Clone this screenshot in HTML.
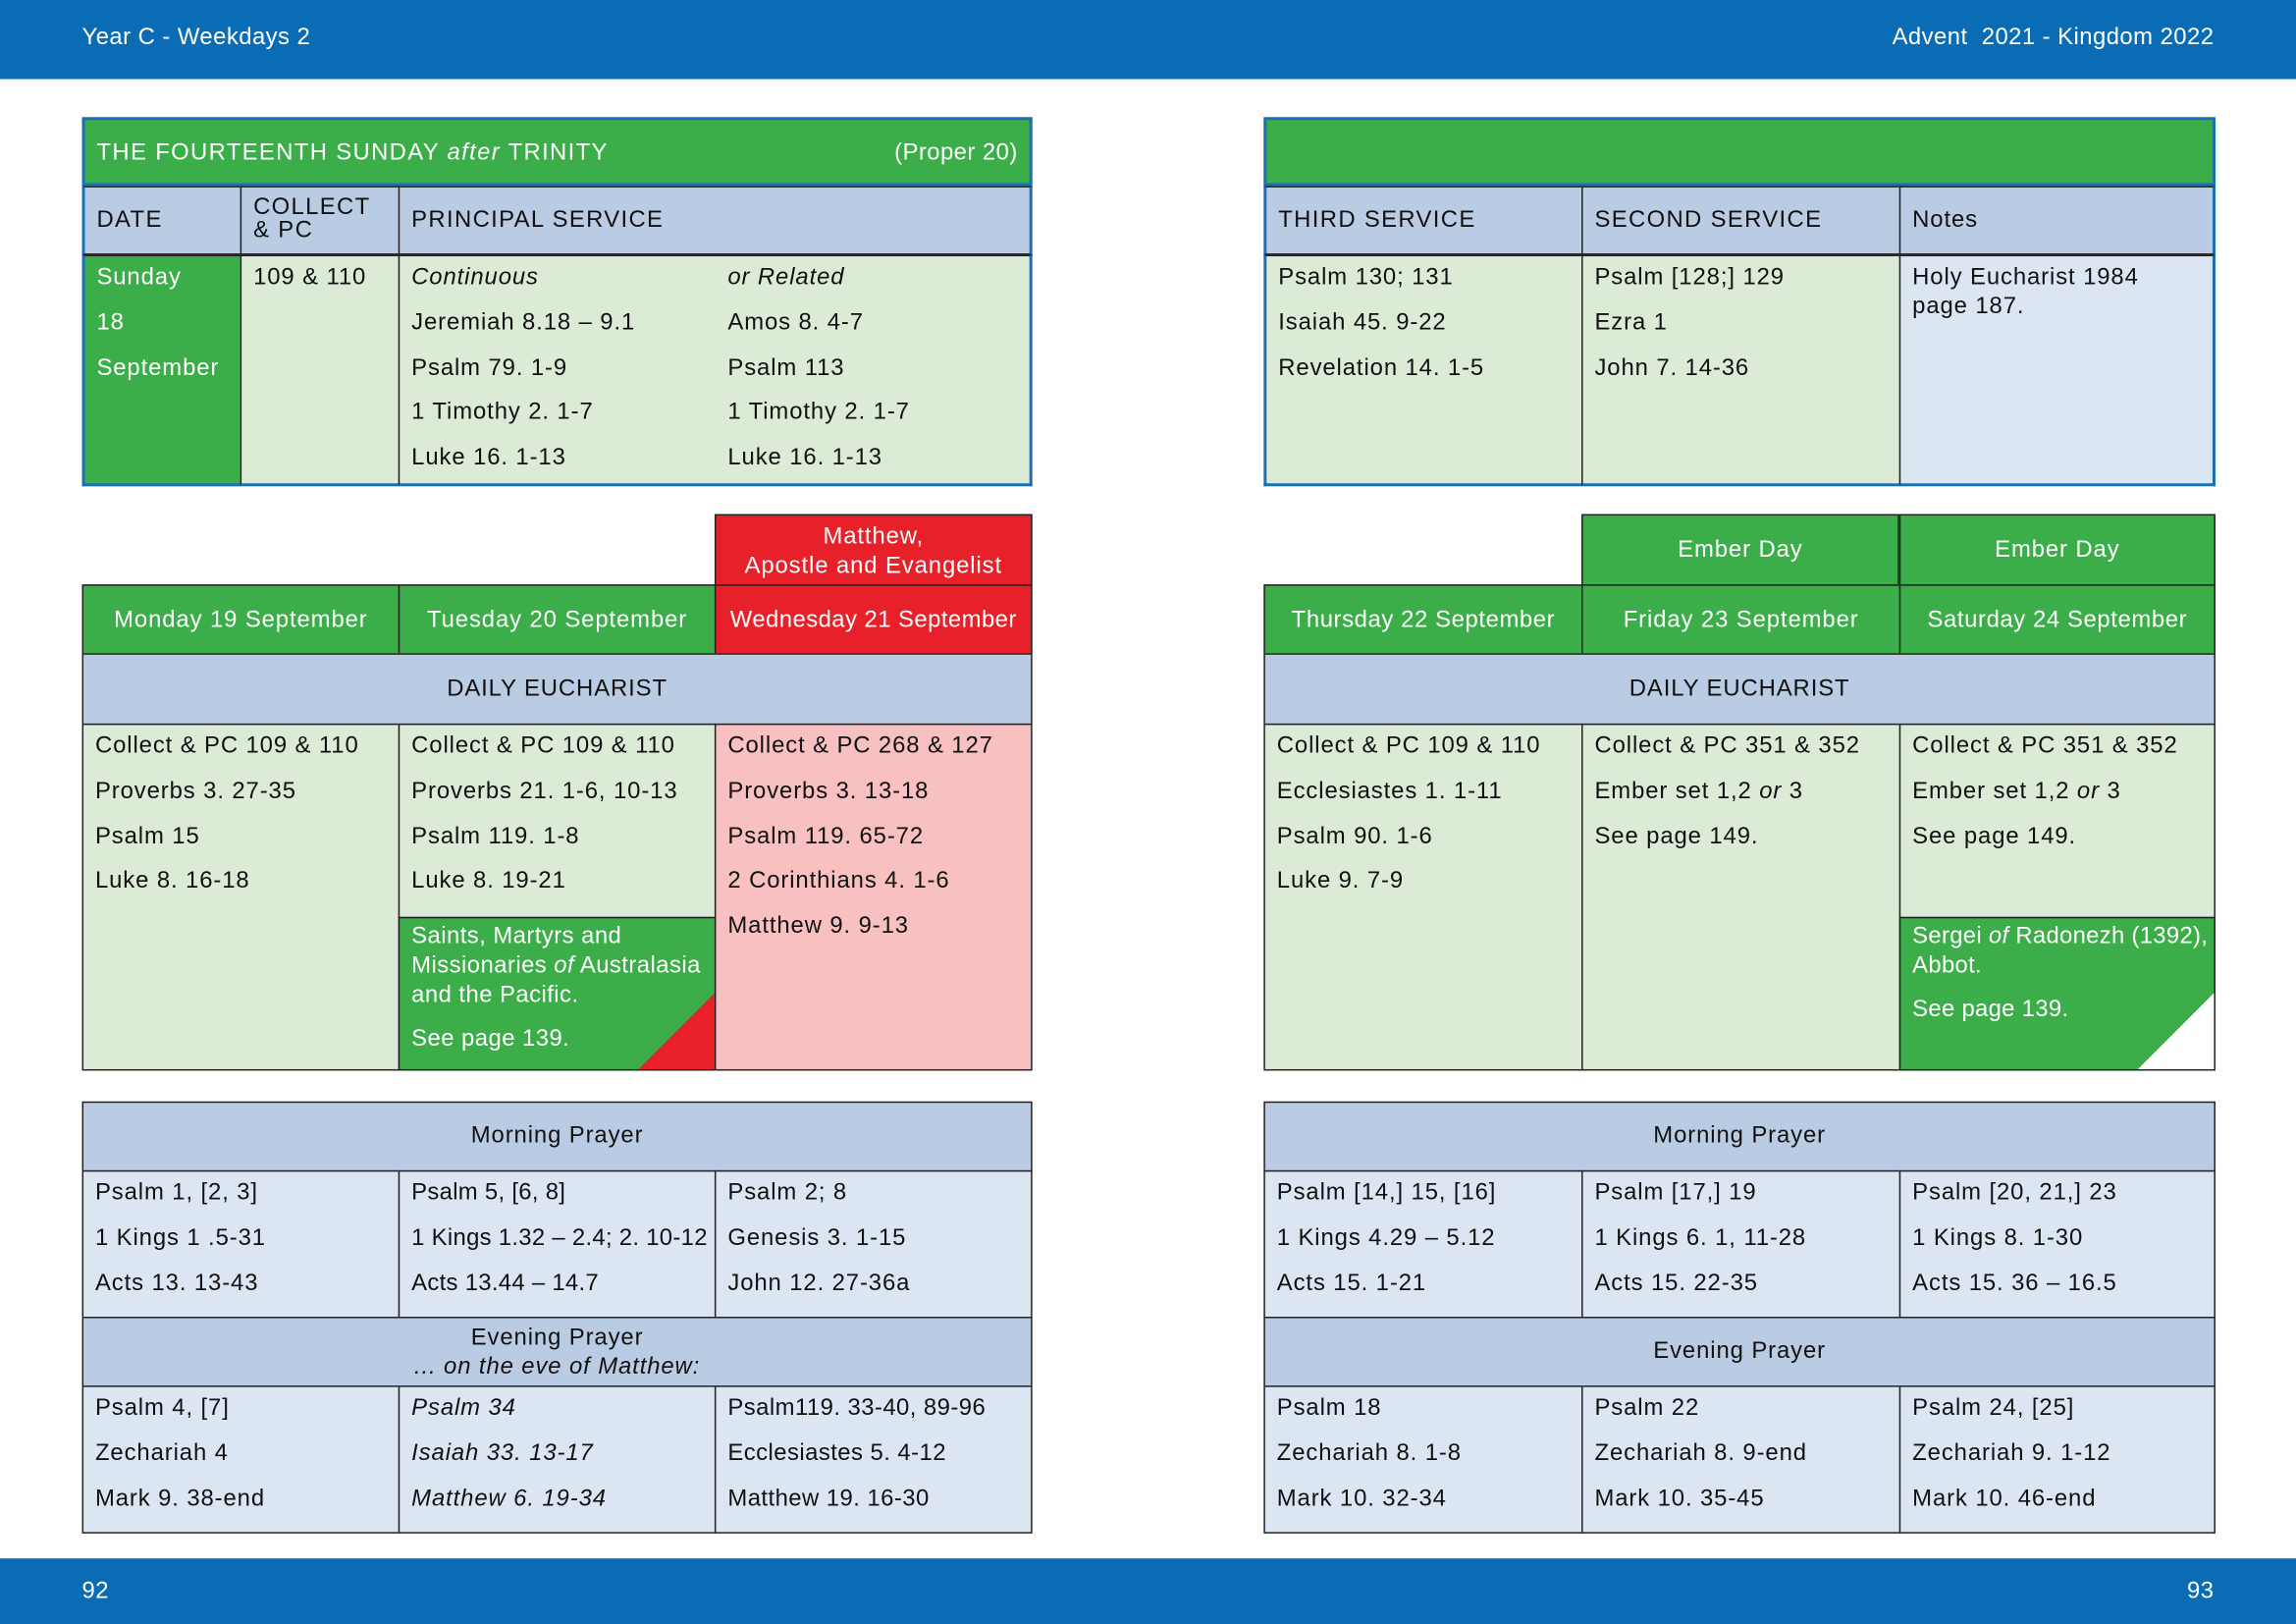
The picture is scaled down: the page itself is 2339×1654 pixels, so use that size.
<!DOCTYPE html>
<html><head><meta charset="utf-8"><style>
html,body{margin:0;padding:0;background:#fff;overflow:hidden}
#w{width:1568px;height:1109px;position:relative;transform:scale(1.49171);transform-origin:0 0;font-family:"Liberation Sans",sans-serif;font-size:16px;color:#111}
.c{position:absolute;box-sizing:border-box;border:1px solid #222;padding:0 8px;line-height:30.8px;letter-spacing:0.6px;white-space:nowrap}
.bar{position:absolute;left:0;width:1568px;background:#0a6cb4;color:#fff;letter-spacing:0.3px}
.g{background:#3cae49;color:#fff}
.lg{background:#dcebd6}
.hb{background:#b9cce4}
.db{background:#dce6f2}
.pk{background:#f8c0c0}
.rd{background:#e8202a;color:#fff}
.ctr{text-align:center}
.t{position:absolute;white-space:nowrap}
</style></head><body><div id="w">
<div class="bar" style="top:0;height:54px"><span class="t" style="left:56px;top:17px">Year C - Weekdays 2</span><span class="t" style="right:56px;top:17px">Advent&nbsp; 2021 - Kingdom 2022</span></div>
<div class="bar" style="top:1064px;height:45px"><span class="t" style="left:56px;top:14px">92</span><span class="t" style="right:56px;top:14px">93</span></div>

<!-- top left -->
<div class="c g" style="left:56px;top:80px;width:649px;height:47px;line-height:46px;border:2px solid #1a6fb5;letter-spacing:0.9px">THE FOURTEENTH SUNDAY <i>after</i> TRINITY<span style="position:absolute;right:8px;letter-spacing:0.3px">(Proper 20)</span></div>
<div class="c hb" style="left:56px;top:127px;width:109px;height:47px;line-height:46px;border-left:2px solid #1a6fb5;letter-spacing:0.9px">DATE</div>
<div class="c hb" style="left:164px;top:127px;width:109px;height:47px;line-height:16px;padding-top:6px;letter-spacing:0.9px">COLLECT<br>&amp; PC</div>
<div class="c hb" style="left:272px;top:127px;width:433px;height:47px;line-height:46px;border-right:2px solid #1a6fb5;letter-spacing:0.9px">PRINCIPAL SERVICE</div>
<div class="c g" style="left:56px;top:174px;width:109px;height:158px;border:2px solid #1a6fb5;border-right:1px solid #222;border-top:1px solid #222">Sunday<br>18<br>September</div>
<div class="c lg" style="left:164px;top:174px;width:109px;height:158px;border-bottom:2px solid #1a6fb5">109 &amp; 110</div>
<div class="c lg" style="left:272px;top:174px;width:433px;height:158px;border-bottom:2px solid #1a6fb5;border-right:2px solid #1a6fb5"><i>Continuous</i><br>Jeremiah 8.18 – 9.1<br>Psalm 79. 1-9<br>1 Timothy 2. 1-7<br>Luke 16. 1-13
<div style="position:absolute;left:224px;top:0"><i>or Related</i><br>Amos 8. 4-7<br>Psalm 113<br>1 Timothy 2. 1-7<br>Luke 16. 1-13</div></div>

<!-- top right -->
<div class="c g" style="left:863px;top:80px;width:650px;height:47px;border:2px solid #1a6fb5"></div>
<div class="c hb" style="left:863px;top:127px;width:218px;height:47px;line-height:46px;border-left:2px solid #1a6fb5;letter-spacing:0.9px">THIRD SERVICE</div>
<div class="c hb" style="left:1080px;top:127px;width:218px;height:47px;line-height:46px;letter-spacing:0.9px">SECOND SERVICE</div>
<div class="c hb" style="left:1297px;top:127px;width:216px;height:47px;line-height:46px;border-right:2px solid #1a6fb5">Notes</div>
<div class="c lg" style="left:863px;top:174px;width:218px;height:158px;border-left:2px solid #1a6fb5;border-bottom:2px solid #1a6fb5">Psalm 130; 131<br>Isaiah 45. 9-22<br>Revelation 14. 1-5</div>
<div class="c lg" style="left:1080px;top:174px;width:218px;height:158px;border-bottom:2px solid #1a6fb5">Psalm [128;] 129<br>Ezra 1<br>John 7. 14-36</div>
<div class="c db" style="left:1297px;top:174px;width:216px;height:158px;border-bottom:2px solid #1a6fb5;border-right:2px solid #1a6fb5;line-height:20px;padding-top:5px">Holy Eucharist 1984<br>page 187.</div>

<!-- middle left -->
<div class="c rd ctr" style="left:488px;top:351px;width:217px;height:49px;line-height:20px;padding-top:5px">Matthew,<br>Apostle and Evangelist</div>
<div class="c g ctr" style="left:56px;top:399px;width:217px;height:48px;line-height:47px;padding:0">Monday 19 September</div>
<div class="c g ctr" style="left:272px;top:399px;width:217px;height:48px;line-height:47px;padding:0">Tuesday 20 September</div>
<div class="c rd ctr" style="left:488px;top:399px;width:217px;height:48px;line-height:47px;padding:0;letter-spacing:0.3px">Wednesday 21 September</div>
<div class="c hb ctr" style="left:56px;top:446px;width:649px;height:49px;line-height:47px">DAILY EUCHARIST</div>
<div class="c lg" style="left:56px;top:494px;width:217px;height:237px">Collect &amp; PC 109 &amp; 110<br>Proverbs 3. 27-35<br>Psalm 15<br>Luke 8. 16-18</div>
<div class="c lg" style="left:272px;top:494px;width:217px;height:133px">Collect &amp; PC 109 &amp; 110<br>Proverbs 21. 1-6, 10-13<br>Psalm 119. 1-8<br>Luke 8. 19-21</div>
<div class="c g" style="left:272px;top:626px;width:217px;height:105px;line-height:20px;padding-top:3px;overflow:hidden;letter-spacing:0.3px">Saints, Martyrs and<br>Missionaries <i>of</i> Australasia<br>and the Pacific.<div style="margin-top:10px">See page 139.</div>
<div style="position:absolute;right:0;bottom:0;width:0;height:0;border-left:52px solid transparent;border-bottom:52px solid #e8202a"></div></div>
<div class="c pk" style="left:488px;top:494px;width:217px;height:237px">Collect &amp; PC 268 &amp; 127<br>Proverbs 3. 13-18<br>Psalm 119. 65-72<br>2 Corinthians 4. 1-6<br>Matthew 9. 9-13</div>

<!-- middle right -->
<div class="c g ctr" style="left:1080px;top:351px;width:217px;height:49px;line-height:48px">Ember Day</div>
<div class="c g ctr" style="left:1297px;top:351px;width:216px;height:49px;line-height:48px">Ember Day</div>
<div class="c g ctr" style="left:863px;top:399px;width:218px;height:48px;line-height:47px;padding:0;letter-spacing:0.4px">Thursday 22 September</div>
<div class="c g ctr" style="left:1080px;top:399px;width:218px;height:48px;line-height:47px;padding:0">Friday 23 September</div>
<div class="c g ctr" style="left:1297px;top:399px;width:216px;height:48px;line-height:47px;padding:0;letter-spacing:0.4px">Saturday 24 September</div>
<div class="c hb ctr" style="left:863px;top:446px;width:650px;height:49px;line-height:47px">DAILY EUCHARIST</div>
<div class="c lg" style="left:863px;top:494px;width:218px;height:237px">Collect &amp; PC 109 &amp; 110<br>Ecclesiastes 1. 1-11<br>Psalm 90. 1-6<br>Luke 9. 7-9</div>
<div class="c lg" style="left:1080px;top:494px;width:218px;height:237px">Collect &amp; PC 351 &amp; 352<br>Ember set 1,2 <i>or</i> 3<br>See page 149.</div>
<div class="c lg" style="left:1297px;top:494px;width:216px;height:133px">Collect &amp; PC 351 &amp; 352<br>Ember set 1,2 <i>or</i> 3<br>See page 149.</div>
<div class="c g" style="left:1297px;top:626px;width:216px;height:105px;line-height:20px;padding-top:3px;overflow:hidden;letter-spacing:0.2px">Sergei <i>of</i> Radonezh (1392),<br>Abbot.<div style="margin-top:10px">See page 139.</div>
<div style="position:absolute;right:0;bottom:0;width:0;height:0;border-left:52px solid transparent;border-bottom:52px solid #fff"></div></div>

<!-- bottom left -->
<div class="c hb ctr" style="left:56px;top:752px;width:649px;height:48px;line-height:46px">Morning Prayer</div>
<div class="c db" style="left:56px;top:799px;width:217px;height:101px">Psalm 1, [2, 3]<br>1 Kings 1 .5-31<br>Acts 13. 13-43</div>
<div class="c db" style="left:272px;top:799px;width:217px;height:101px;letter-spacing:0.2px">Psalm 5, [6, 8]<br>1 Kings 1.32 – 2.4; 2. 10-12<br>Acts 13.44 – 14.7</div>
<div class="c db" style="left:488px;top:799px;width:217px;height:101px">Psalm 2; 8<br>Genesis 3. 1-15<br>John 12. 27-36a</div>
<div class="c hb ctr" style="left:56px;top:899px;width:649px;height:48px;line-height:20px;padding-top:4px">Evening Prayer<br><i>... on the eve of Matthew:</i></div>
<div class="c db" style="left:56px;top:946px;width:217px;height:101px">Psalm 4, [7]<br>Zechariah 4<br>Mark 9. 38-end</div>
<div class="c db" style="left:272px;top:946px;width:217px;height:101px"><i>Psalm 34<br>Isaiah 33. 13-17<br>Matthew 6. 19-34</i></div>
<div class="c db" style="left:488px;top:946px;width:217px;height:101px;letter-spacing:0.3px">Psalm119. 33-40, 89-96<br>Ecclesiastes 5. 4-12<br>Matthew 19. 16-30</div>

<!-- bottom right -->
<div class="c hb ctr" style="left:863px;top:752px;width:650px;height:48px;line-height:46px">Morning Prayer</div>
<div class="c db" style="left:863px;top:799px;width:218px;height:101px">Psalm [14,] 15, [16]<br>1 Kings 4.29 – 5.12<br>Acts 15. 1-21</div>
<div class="c db" style="left:1080px;top:799px;width:218px;height:101px">Psalm [17,] 19<br>1 Kings 6. 1, 11-28<br>Acts 15. 22-35</div>
<div class="c db" style="left:1297px;top:799px;width:216px;height:101px">Psalm [20, 21,] 23<br>1 Kings 8. 1-30<br>Acts 15. 36 – 16.5</div>
<div class="c hb ctr" style="left:863px;top:899px;width:650px;height:48px;line-height:46px">Evening Prayer</div>
<div class="c db" style="left:863px;top:946px;width:218px;height:101px">Psalm 18<br>Zechariah 8. 1-8<br>Mark 10. 32-34</div>
<div class="c db" style="left:1080px;top:946px;width:218px;height:101px">Psalm 22<br>Zechariah 8. 9-end<br>Mark 10. 35-45</div>
<div class="c db" style="left:1297px;top:946px;width:216px;height:101px">Psalm 24, [25]<br>Zechariah 9. 1-12<br>Mark 10. 46-end</div>
</div></body></html>
